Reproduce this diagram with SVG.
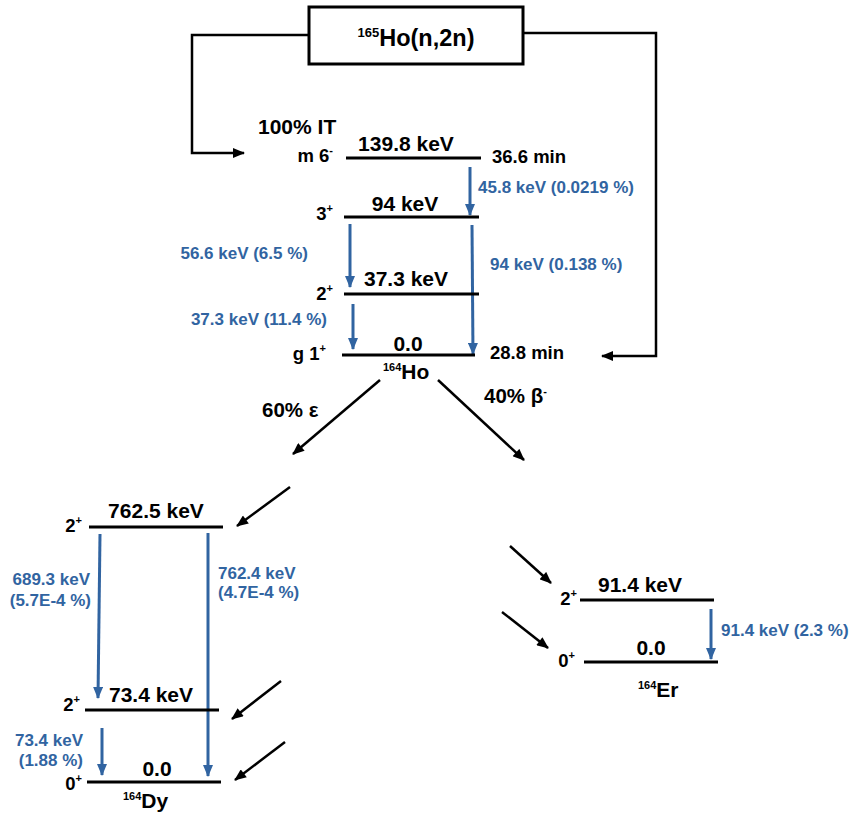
<svg xmlns="http://www.w3.org/2000/svg" width="850" height="817" viewBox="0 0 850 817">
<defs>
<marker id="ab" viewBox="0 0 12 10" refX="11" refY="5" markerWidth="13" markerHeight="10" markerUnits="userSpaceOnUse" orient="auto"><path d="M0,0 L12,5 L0,10 Z" fill="#000"/></marker>
<marker id="au" viewBox="0 0 12 10" refX="11" refY="5" markerWidth="14" markerHeight="10" markerUnits="userSpaceOnUse" orient="auto"><path d="M0,0 L12,5 L0,10 Z" fill="#3164a1"/></marker>
<style>
text{font-family:"Liberation Sans",Arial,sans-serif;font-weight:bold;fill:#000}
.e{font-size:21px}
.s{font-size:18.5px}
.b{font-size:17px;fill:#3164a1}
.lv{stroke:#000;stroke-width:3;fill:none}
.k{stroke:#000;stroke-width:2.5;fill:none}
.g{stroke:#3164a1;stroke-width:3;fill:none;marker-end:url(#au)}
.d{stroke:#000;stroke-width:2.5;fill:none;marker-end:url(#ab)}
.m{text-anchor:middle}
.r{text-anchor:end}
.sp{font-size:11px}
</style>
</defs>
<rect width="850" height="817" fill="#fff"/>
<g id="source">
<rect x="309" y="7" width="214" height="57" fill="#fff" stroke="#000" stroke-width="3"/>
<text x="416" y="46" class="m" style="font-size:23.5px"><tspan style="font-size:13px" dy="-9">165</tspan><tspan dy="9">Ho(n,2n)</tspan></text>
</g>
<g id="connectors">
<polyline class="k" points="309,35 192,35 192,153 244,153" marker-end="url(#ab)"/>
<polyline class="k" points="523,33 656,33 656,356 602,356" marker-end="url(#ab)"/>
<line class="d" x1="380" y1="380" x2="293" y2="454"/>
<line class="d" x1="438" y1="380" x2="524" y2="460"/>
<line class="d" x1="290" y1="487" x2="237" y2="526"/>
<line class="d" x1="281" y1="681" x2="232" y2="719"/>
<line class="d" x1="285" y1="742" x2="235" y2="780"/>
<line class="d" x1="510" y1="546" x2="551" y2="583"/>
<line class="d" x1="502" y1="612" x2="548" y2="648"/>
<line class="g" x1="470" y1="167" x2="470" y2="215"/>
<line class="g" x1="350" y1="224" x2="350" y2="287"/>
<line class="g" x1="472" y1="225" x2="473" y2="354"/>
<line class="g" x1="353" y1="304" x2="353" y2="349"/>
<line class="g" x1="100" y1="534" x2="98" y2="698"/>
<line class="g" x1="208" y1="533" x2="208" y2="776"/>
<line class="g" x1="102" y1="728" x2="102" y2="775"/>
<line class="g" x1="711" y1="609" x2="711" y2="659"/>
</g>
<g id="ho-m">
<text x="258" y="134" style="font-size:21px">100% IT</text>
<text x="333" y="162" class="s r">m 6<tspan class="sp" dy="-8">-</tspan></text>
<line class="lv" x1="346" y1="158" x2="481" y2="158"/>
<text x="406" y="151" class="m e">139.8 keV</text>
<text x="492" y="163" class="s">36.6 min</text>
<text x="478" y="193" class="b">45.8 keV (0.0219 %)</text>
</g>
<g id="ho-94">
<text x="333" y="220" class="s r">3<tspan class="sp" dy="-8">+</tspan></text>
<line class="lv" x1="344" y1="217" x2="479" y2="217"/>
<text x="405" y="211" class="m e">94 keV</text>
<text x="308" y="259" class="b r">56.6 keV (6.5 %)</text>
<text x="490" y="270" class="b">94 keV (0.138 %)</text>
</g>
<g id="ho-37">
<text x="333" y="300" class="s r">2<tspan class="sp" dy="-8">+</tspan></text>
<line class="lv" x1="344" y1="294" x2="479" y2="294"/>
<text x="406" y="286" class="m e">37.3 keV</text>
<text x="327" y="325" class="b r">37.3 keV (11.4 %)</text>
</g>
<g id="ho-g">
<text x="326" y="360" class="s r">g 1<tspan class="sp" dy="-8">+</tspan></text>
<line class="lv" x1="342" y1="355" x2="475" y2="355"/>
<text x="408" y="351" class="m e">0.0</text>
<text x="490" y="359" class="s">28.8 min</text>
<text x="383" y="379" style="font-size:21px"><tspan class="sp" dy="-8">164</tspan><tspan dy="8">Ho</tspan></text>
<text x="262" y="417" style="font-size:20.5px">60% ε</text>
<text x="484" y="403" style="font-size:20.5px">40% β<tspan class="sp" dy="-8">-</tspan></text>
</g>
<g id="dy-762">
<text x="82" y="532" class="s r">2<tspan class="sp" dy="-8">+</tspan></text>
<line class="lv" x1="89" y1="527" x2="223" y2="527"/>
<text x="156" y="518" class="m e">762.5 keV</text>
<text x="90" y="585" class="b r">689.3 keV</text>
<text x="91" y="606" class="b r">(5.7E-4 %)</text>
<text x="218" y="579" class="b">762.4 keV</text>
<text x="218" y="598" class="b">(4.7E-4 %)</text>
</g>
<g id="dy-73">
<text x="80" y="711" class="s r">2<tspan class="sp" dy="-8">+</tspan></text>
<line class="lv" x1="85" y1="710" x2="219" y2="710"/>
<text x="151" y="702" class="m e">73.4 keV</text>
<text x="83" y="746" class="b r">73.4 keV</text>
<text x="83" y="766" class="b r">(1.88 %)</text>
</g>
<g id="dy-0">
<text x="82" y="790" class="s r">0<tspan class="sp" dy="-8">+</tspan></text>
<line class="lv" x1="87" y1="782" x2="221" y2="782"/>
<text x="157" y="776" class="m e">0.0</text>
<text x="123" y="808" style="font-size:21px"><tspan class="sp" dy="-8">164</tspan><tspan dy="8">Dy</tspan></text>
</g>
<g id="er-91">
<text x="577" y="605" class="s r">2<tspan class="sp" dy="-8">+</tspan></text>
<line class="lv" x1="580" y1="600" x2="714" y2="600"/>
<text x="640" y="592" class="m e">91.4 keV</text>
<text x="721" y="636" class="b">91.4 keV (2.3 %)</text>
</g>
<g id="er-0">
<text x="575" y="667" class="s r">0<tspan class="sp" dy="-8">+</tspan></text>
<line class="lv" x1="584" y1="662" x2="718" y2="662"/>
<text x="651" y="655" class="m e">0.0</text>
<text x="638" y="697" style="font-size:21px"><tspan class="sp" dy="-8">164</tspan><tspan dy="8">Er</tspan></text>
</g>
</svg>
